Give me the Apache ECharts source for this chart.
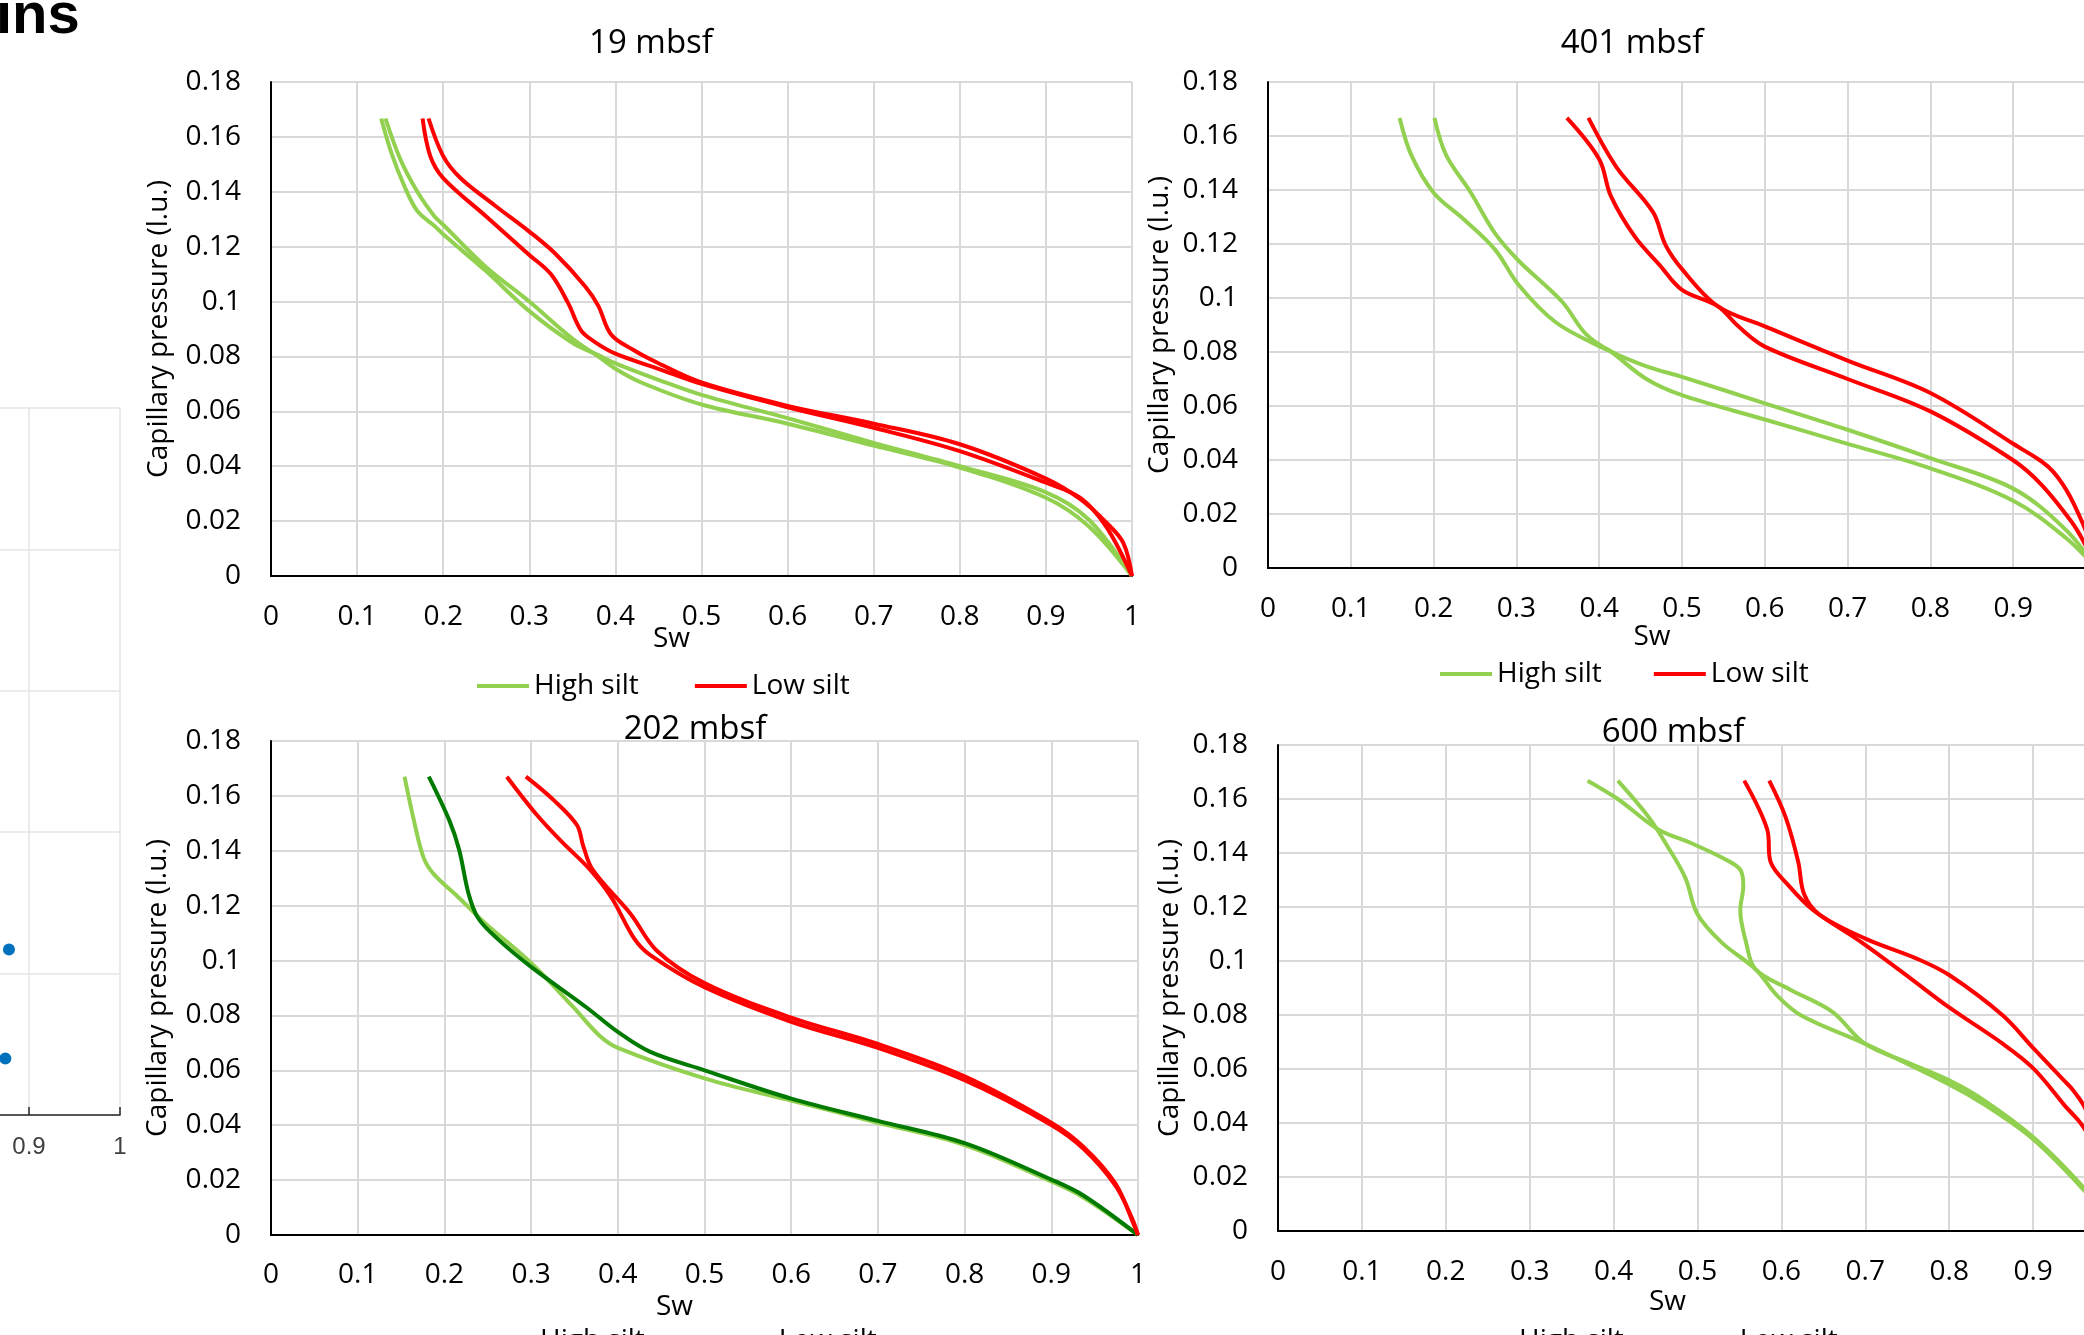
<!DOCTYPE html>
<html>
<head>
<meta charset="utf-8">
<script src="https://cdn.jsdelivr.net/npm/echarts@6/dist/echarts.min.js"></script>
<style>
  html, body { margin: 0; padding: 0; background: #fff; }
  #chart { width: 2084px; height: 1335px; }
</style>
</head>
<body>
<div id="chart"></div>
<script>
// capillary pressure curves, [Sw, Pc (l.u.)]
var high19A = [[0.133,0.1667],[0.15,0.152],[0.17,0.14],[0.19,0.131],[0.2,0.128],[0.25,0.1125],[0.3,0.1],[0.35,0.0865],[0.38,0.08],[0.4,0.0755],[0.43,0.0705],[0.5,0.0625],[0.6,0.0555],[0.7,0.0475],[0.8,0.0395],[0.9,0.0285],[0.95,0.018],[1,0]]
var high19B = [[0.128,0.1667],[0.14,0.154],[0.155,0.142],[0.17,0.133],[0.19,0.1275],[0.2,0.1245],[0.25,0.111],[0.3,0.0965],[0.35,0.085],[0.38,0.0805],[0.4,0.0775],[0.45,0.0715],[0.5,0.066],[0.6,0.0575],[0.7,0.0485],[0.8,0.04],[0.9,0.0305],[0.95,0.0205],[1,0]]
var low19A = [[0.176,0.1667],[0.185,0.153],[0.2,0.145],[0.25,0.131],[0.3,0.117],[0.325,0.11],[0.345,0.0995],[0.36,0.0895],[0.375,0.0855],[0.4,0.081],[0.45,0.0755],[0.5,0.07],[0.6,0.0615],[0.7,0.054],[0.8,0.0455],[0.9,0.034],[0.94,0.0285],[0.97,0.018],[1,0]]
var low19B = [[0.183,0.1667],[0.2,0.153],[0.22,0.145],[0.26,0.135],[0.3,0.1255],[0.33,0.1175],[0.365,0.1055],[0.38,0.0985],[0.395,0.088],[0.42,0.0825],[0.45,0.0775],[0.5,0.0705],[0.6,0.062],[0.7,0.0555],[0.8,0.048],[0.9,0.0355],[0.94,0.028],[0.97,0.0195],[0.99,0.012],[1,0]]

var high401A = [[0.159,0.1667],[0.173,0.153],[0.2,0.139],[0.237,0.129],[0.274,0.118],[0.303,0.1047],[0.347,0.0911],[0.4,0.0821],[0.413,0.0803],[0.457,0.07],[0.5,0.064],[0.6,0.055],[0.7,0.046],[0.8,0.0369],[0.9,0.0249],[0.963,0.0113],[1,0]]
var high401B = [[0.201,0.1667],[0.215,0.153],[0.245,0.139],[0.274,0.124],[0.303,0.1137],[0.355,0.0987],[0.384,0.0866],[0.414,0.0803],[0.458,0.0746],[0.5,0.0708],[0.6,0.061],[0.7,0.0512],[0.8,0.0407],[0.9,0.0294],[0.963,0.0143],[1,0]]
var low401A = [[0.361,0.1667],[0.4,0.1514],[0.414,0.1378],[0.443,0.1227],[0.473,0.1122],[0.5,0.103],[0.543,0.097],[0.568,0.0895],[0.6,0.082],[0.7,0.07],[0.8,0.058],[0.9,0.0399],[0.934,0.0309],[0.97,0.0173],[0.985,0.0098],[1,0]]
var low401B = [[0.387,0.1667],[0.421,0.1484],[0.465,0.1318],[0.48,0.1197],[0.5,0.1107],[0.543,0.097],[0.6,0.0895],[0.7,0.0768],[0.8,0.0648],[0.9,0.046],[0.949,0.0354],[0.985,0.0158],[1,0]]

var high202A = [[0.154,0.167],[0.165,0.1508],[0.176,0.1375],[0.1875,0.1316],[0.217,0.1228],[0.246,0.1139],[0.3,0.0991],[0.349,0.0829],[0.379,0.0726],[0.4,0.0682],[0.5,0.0571],[0.6,0.049],[0.7,0.0409],[0.8,0.0328],[0.9,0.0195],[0.9375,0.0136],[1,0]]
var high202B = [[0.182,0.167],[0.206,0.1508],[0.217,0.1404],[0.228,0.1242],[0.239,0.1154],[0.261,0.108],[0.3,0.0977],[0.364,0.0829],[0.4,0.074],[0.4375,0.0667],[0.5,0.06],[0.6,0.0497],[0.7,0.0416],[0.8,0.0335],[0.9,0.0202],[0.9375,0.0143],[1,0]]
var low202A = [[0.272,0.167],[0.305,0.1537],[0.335,0.1434],[0.368,0.1331],[0.393,0.1228],[0.419,0.108],[0.4375,0.102],[0.5,0.0903],[0.6,0.0777],[0.7,0.0682],[0.8,0.0564],[0.9,0.0401],[0.9375,0.0313],[0.974,0.018],[0.993,0.0062],[1,0]]
var low202B = [[0.294,0.167],[0.327,0.1582],[0.353,0.1493],[0.36,0.1419],[0.371,0.1331],[0.415,0.1169],[0.445,0.1036],[0.5,0.0918],[0.6,0.0792],[0.7,0.0696],[0.8,0.0578],[0.9,0.0409],[0.9375,0.032],[0.974,0.0187],[0.996,0.0032],[1,0]]

var high600A = [[0.369,0.1668],[0.405,0.16],[0.4527,0.1488],[0.4927,0.1436],[0.529,0.1383],[0.551,0.1338],[0.5546,0.1278],[0.551,0.1188],[0.558,0.1068],[0.569,0.097],[0.609,0.0896],[0.66,0.0813],[0.7,0.0693],[0.755,0.0618],[0.8,0.0558],[0.842,0.0483],[0.9,0.0348],[0.958,0.0168],[1,0]]
var high600B = [[0.405,0.1668],[0.4418,0.1533],[0.4636,0.1428],[0.4855,0.1308],[0.5,0.1173],[0.529,0.1068],[0.569,0.097],[0.5946,0.0873],[0.6237,0.0798],[0.7,0.0693],[0.8,0.0543],[0.842,0.0468],[0.9,0.034],[0.958,0.016],[1,0]]
var low600A = [[0.5557,0.1668],[0.583,0.1488],[0.587,0.1368],[0.609,0.1278],[0.638,0.1188],[0.696,0.1068],[0.755,0.0933],[0.8,0.0828],[0.864,0.0693],[0.9,0.0603],[0.9367,0.0468],[0.964,0.0363],[1,0]]
var low600B = [[0.5855,0.1668],[0.605,0.1533],[0.62,0.1368],[0.627,0.1248],[0.645,0.1173],[0.7,0.1083],[0.762,0.1008],[0.8,0.0948],[0.864,0.0798],[0.9,0.0678],[0.9367,0.0558],[0.948,0.052],[0.964,0.044],[1,0]]

// the cut-off chart at the left edge
var leftDots = [[0.878,1.17],[0.874,0.40]]

var panelTitles = ['19 mbsf', '401 mbsf', '202 mbsf', '600 mbsf']
var legendNames = ['High silt', 'Low silt']

var FONT = 'Open Sans'
var GREEN = '#92D050'
var DARKGREEN = '#007A00'
var RED = '#FF0000'

var myChart = echarts.init(document.getElementById('chart'))

// grid boxes: [left, top, width, height]
var boxes = [
  [271, 82, 861, 494],
  [1268, 82, 828, 486],
  [271, 741, 867, 494],
  [1278, 745, 839, 486]
]
var labelMargin = [27, 27, 26, 27]
var nameGapY = [98, 94, 99, 94]
var nameGapX = [49, 55, 58, 57]

var grids = []
var xAxes = []
var yAxes = []
boxes.forEach(function (b, i) {
  grids.push({left: b[0], top: b[1], width: b[2], height: b[3], outerBoundsMode: 'none', containLabel: false})
  xAxes.push({
    type: 'value', gridIndex: i, min: 0, max: 1, interval: 0.1,
    name: 'Sw', nameLocation: 'middle', nameGap: nameGapX[i], nameMoveOverlap: false,
    nameTextStyle: {fontFamily: FONT, fontSize: 28, color: '#000', padding: [0, 60, 0, 0]},
    axisLine: {show: true, onZero: false, lineStyle: {color: '#000', width: 2}},
    axisTick: {show: false},
    axisLabel: {fontFamily: FONT, fontSize: 28, color: '#000', margin: labelMargin[i]},
    splitLine: {show: true, lineStyle: {color: '#D9D9D9', width: 2}}
  })
  yAxes.push({
    type: 'value', gridIndex: i, min: 0, max: 0.18, interval: 0.02,
    name: 'Capillary pressure (l.u.)', nameLocation: 'middle', nameGap: nameGapY[i], nameMoveOverlap: false,
    nameTextStyle: {fontFamily: FONT, fontSize: 28, color: '#000'},
    axisLine: {show: true, onZero: false, lineStyle: {color: '#000', width: 2}},
    axisTick: {show: false},
    axisLabel: {fontFamily: FONT, fontSize: 28, color: '#000', margin: 30},
    splitLine: {show: true, lineStyle: {color: '#D9D9D9', width: 2}}
  })
})

// left chart, only its right end is on the page
grids.push({left: -790, top: 408, width: 910, height: 707, outerBoundsMode: 'none', containLabel: false})
xAxes.push({
  type: 'value', gridIndex: 4, min: 0, max: 1, interval: 0.1,
  axisLine: {show: true, lineStyle: {color: '#262626', width: 1.5}},
  axisTick: {show: true, inside: true, length: 8, lineStyle: {color: '#262626', width: 1.5}},
  axisLabel: {fontFamily: 'Liberation Sans', fontSize: 24, color: '#404040', margin: 20},
  splitLine: {show: true, lineStyle: {color: '#E5E5E5', width: 1.5}}
})
yAxes.push({
  type: 'value', gridIndex: 4, min: 0, max: 5, interval: 1,
  axisLine: {show: false}, axisTick: {show: false}, axisLabel: {show: false},
  splitLine: {show: true, lineStyle: {color: '#E5E5E5', width: 1.5}}
})

function curve (name, data, idx, color) {
  return {
    name: name, type: 'line', xAxisIndex: idx, yAxisIndex: idx, data: data,
    smooth: 0.35, showSymbol: false, symbol: 'none',
    lineStyle: {color: color, width: 4}, itemStyle: {color: color},
    emphasis: {disabled: true}
  }
}

var series = [
  curve('High silt', high19A, 0, GREEN), curve('High silt', high19B, 0, GREEN),
  curve('Low silt', low19A, 0, RED), curve('Low silt', low19B, 0, RED),
  curve('High silt', high401A, 1, GREEN), curve('High silt', high401B, 1, GREEN),
  curve('Low silt', low401A, 1, RED), curve('Low silt', low401B, 1, RED),
  curve('High silt', high202A, 2, GREEN), curve('High silt', high202B, 2, DARKGREEN),
  curve('Low silt', low202A, 2, RED), curve('Low silt', low202B, 2, RED),
  curve('High silt', high600A, 3, GREEN), curve('High silt', high600B, 3, GREEN),
  curve('Low silt', low600A, 3, RED), curve('Low silt', low600B, 3, RED),
  {
    type: 'scatter', xAxisIndex: 4, yAxisIndex: 4, data: leftDots,
    symbolSize: 12, itemStyle: {color: '#0072BD', opacity: 1}
  }
]

// titles: [centerX, top]
var titlePos = [[651, 27], [1632, 27], [695, 713], [1673, 716]]
var titles = panelTitles.map(function (t, i) {
  return {
    text: t, left: titlePos[i][0], top: titlePos[i][1], textAlign: 'center', padding: 0,
    textStyle: {fontFamily: FONT, fontSize: 33, fontWeight: 'normal', color: '#000'}
  }
})

// legends: [left, top, gap]
var legendPos = [[477, 672, 56], [1440, 660, 52], [483, 1327, 77], [1462, 1327, 59]]
var legends = legendPos.map(function (p) {
  return {
    data: legendNames, left: p[0], top: p[1], itemGap: p[2], padding: 0,
    icon: 'rect', itemWidth: 52, itemHeight: 4, selectedMode: false,
    textStyle: {fontFamily: FONT, fontSize: 28, color: '#000'}
  }
})

var option = {
  animation: false,
  backgroundColor: '#fff',
  title: titles,
  legend: legends,
  grid: grids,
  xAxis: xAxes,
  yAxis: yAxes,
  series: series,
  graphic: [{
    type: 'text', left: -4, top: -12,
    style: {text: 'ins', font: 'bold 58px "Liberation Sans", Arial', fill: '#000'}
  }]
}

myChart.setOption(option)
</script>
</body>
</html>
